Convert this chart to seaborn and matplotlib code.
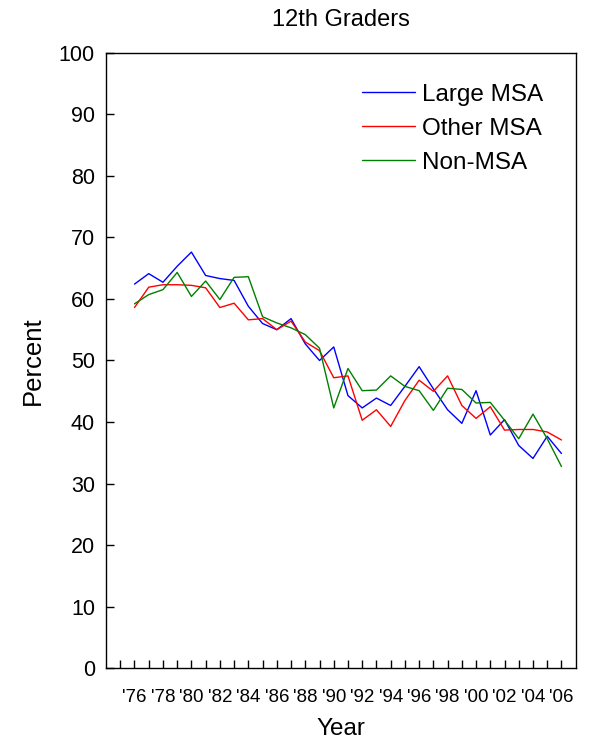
import numpy as np
import pandas as pd
import seaborn as sns
import matplotlib.pyplot as plt

sns.set_style('white')
plt.rcParams['font.family'] = ['Liberation Sans', 'DejaVu Sans']
plt.rcParams['text.color'] = 'black'
plt.rcParams['axes.labelcolor'] = 'black'
plt.rcParams['xtick.color'] = 'black'
plt.rcParams['ytick.color'] = 'black'

# data
years = list(range(1976, 2007))
large_msa = [62.4, 64.1, 62.7, 65.3, 67.6, 63.8, 63.3, 63.0, 58.8, 56.0,
             55.0, 56.8, 52.7, 50.0, 52.2, 44.3, 42.3, 43.9, 42.7, 45.8,
             49.0, 45.4, 42.0, 39.8, 45.1, 37.9, 40.4, 36.2, 34.1, 37.7, 34.9]
other_msa = [58.6, 61.9, 62.3, 62.3, 62.2, 61.8, 58.6, 59.3, 56.6, 56.8,
             55.0, 56.4, 53.0, 51.6, 47.2, 47.5, 40.3, 42.0, 39.3, 43.5,
             46.8, 45.0, 47.5, 42.7, 40.6, 42.5, 38.7, 38.8, 38.8, 38.4, 37.1]
non_msa = [59.2, 60.7, 61.5, 64.3, 60.4, 62.9, 59.9, 63.5, 63.6, 57.1,
           56.1, 55.3, 54.2, 52.0, 42.3, 48.7, 45.1, 45.2, 47.5, 45.8,
           45.1, 41.9, 45.5, 45.3, 43.1, 43.2, 40.3, 37.3, 41.3, 37.3, 32.8]
groups = ['Large MSA', 'Other MSA', 'Non-MSA']
colors = ['#0000ff', '#ff0000', '#008000']

df = pd.DataFrame({'Year': years, 'Large MSA': large_msa,
                   'Other MSA': other_msa, 'Non-MSA': non_msa})
df = df.melt(id_vars='Year', var_name='Group', value_name='Percent')

fig = plt.figure(figsize=(5.93, 7.48), dpi=100)
ax = fig.add_axes([0.1788, 0.1063, 0.7920, 0.8235])

sns.lineplot(data=df, x='Year', y='Percent', hue='Group', hue_order=groups,
             palette=colors, linewidth=1, ax=ax)

ax.set_xlim(1974, 2007)
ax.set_ylim(0, 100)
ax.set_xticks(range(1976, 2007, 2))
ax.set_xticklabels(["'" + str(y)[2:] for y in range(1976, 2007, 2)], fontsize=13.5)
ax.set_xticks([y for y in range(1975, 2007) if y % 2 == 1], minor=True)
ax.set_yticks(range(0, 101, 10))
ax.tick_params(axis='y', labelsize=15.5, direction='in', length=6, width=1, pad=8, left=True)
ax.tick_params(axis='x', which='both', direction='in', length=6, width=1, bottom=True)
ax.tick_params(axis='x', which='major', pad=15)
for s in ax.spines.values():
    s.set_color('black')
    s.set_linewidth(1)

ax.set_title('12th Graders', fontsize=17, pad=19)
ax.set_xlabel('Year', fontsize=17.5)
ax.set_ylabel('Percent', fontsize=18.5)
ax.xaxis.set_label_coords(0.5, -0.08)
ax.yaxis.set_label_coords(-0.13, 0.5)

leg = ax.legend(frameon=False, fontsize=17.5, loc='upper right',
                bbox_to_anchor=(0.978, 0.985), handlelength=2.2,
                handletextpad=0.3, labelspacing=0.5)
for line in leg.get_lines():
    line.set_linewidth(1)

fig.savefig('out.png', dpi=100)
